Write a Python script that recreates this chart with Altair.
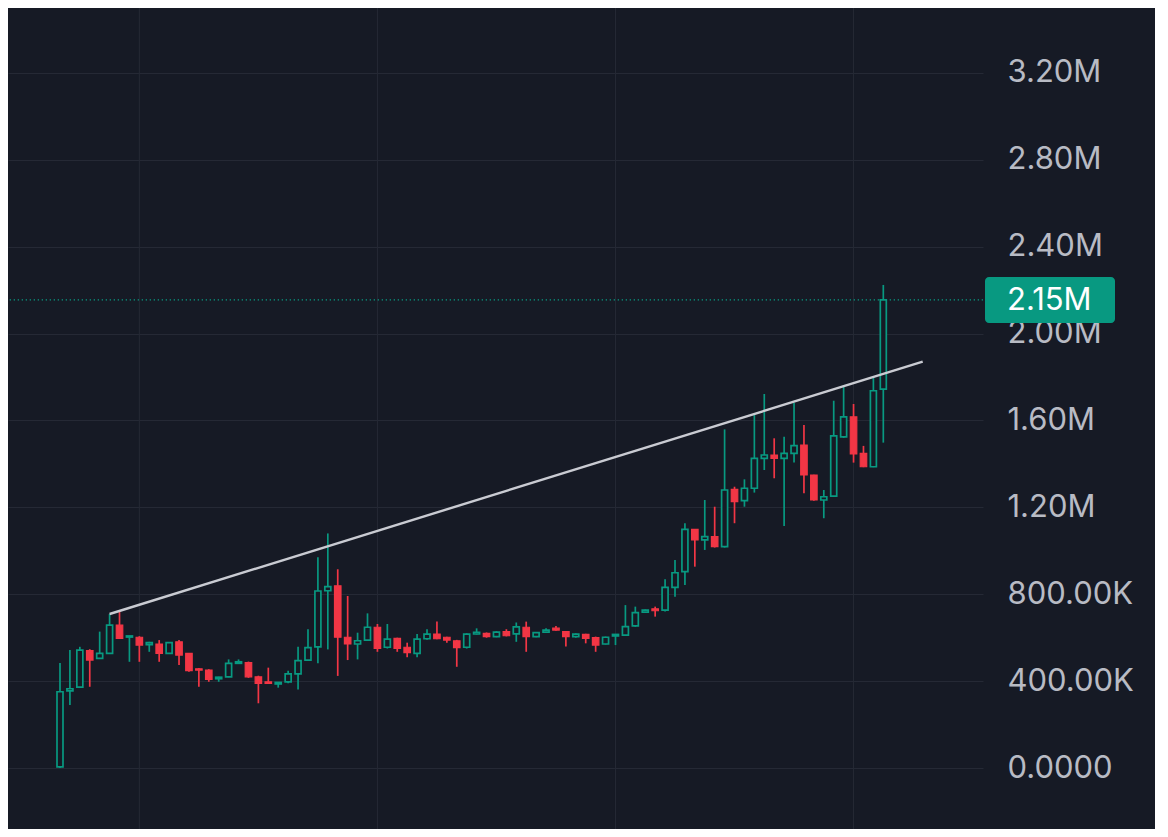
import altair as alt
import pandas as pd

# OHLC values in millions
opens = [0.005, 0.355, 0.372, 0.540, 0.505, 0.528, 0.658, 0.603, 0.602, 0.568,
         0.571, 0.528, 0.581, 0.528, 0.457, 0.451, 0.411, 0.420, 0.482, 0.485,
         0.420, 0.397, 0.387, 0.397, 0.433, 0.497, 0.558, 0.816, 0.839, 0.602,
         0.571, 0.589, 0.648, 0.556, 0.597, 0.556, 0.528, 0.595, 0.617, 0.602,
         0.586, 0.556, 0.617, 0.620, 0.605, 0.628, 0.618, 0.648, 0.605, 0.626,
         0.644, 0.628, 0.605, 0.615, 0.600, 0.571, 0.608, 0.612, 0.654, 0.718,
         0.733, 0.727, 0.832, 0.904, 1.099, 1.050, 1.065, 1.019, 1.283, 1.231,
         1.288, 1.426, 1.441, 1.426, 1.449, 1.487, 1.349, 1.234, 1.252, 1.525,
         1.617, 1.449, 1.387, 1.744]
highs = [0.483, 0.543, 0.558, 0.547, 0.628, 0.709, 0.724, 0.608, 0.607, 0.581,
         0.589, 0.580, 0.589, 0.530, 0.460, 0.455, 0.420, 0.500, 0.500, 0.490,
         0.425, 0.462, 0.396, 0.448, 0.558, 0.639, 0.970, 1.080, 0.915, 0.792,
         0.623, 0.712, 0.663, 0.663, 0.600, 0.577, 0.617, 0.639, 0.674, 0.604,
         0.590, 0.620, 0.643, 0.624, 0.630, 0.639, 0.670, 0.674, 0.626, 0.643,
         0.654, 0.630, 0.620, 0.618, 0.605, 0.605, 0.615, 0.750, 0.743, 0.730,
         0.743, 0.869, 0.958, 1.127, 1.100, 1.234, 1.203, 1.559, 1.295, 1.329,
         1.625, 1.722, 1.518, 1.525, 1.682, 1.579, 1.350, 1.280, 1.691, 1.763,
         1.676, 1.483, 1.802, 2.224]
lows = [0.000, 0.290, 0.372, 0.374, 0.505, 0.528, 0.597, 0.489, 0.489, 0.535,
        0.489, 0.525, 0.474, 0.443, 0.374, 0.397, 0.397, 0.418, 0.480, 0.415,
        0.298, 0.388, 0.370, 0.390, 0.362, 0.497, 0.482, 0.546, 0.424, 0.497,
        0.500, 0.585, 0.535, 0.550, 0.535, 0.510, 0.510, 0.590, 0.593, 0.577,
        0.466, 0.550, 0.615, 0.600, 0.602, 0.606, 0.581, 0.535, 0.602, 0.623,
        0.632, 0.559, 0.600, 0.574, 0.535, 0.569, 0.566, 0.610, 0.650, 0.715,
        0.697, 0.720, 0.789, 0.843, 0.927, 1.004, 1.015, 1.015, 1.127, 1.203,
        1.268, 1.372, 1.334, 1.114, 1.406, 1.265, 1.230, 1.150, 1.250, 1.520,
        1.406, 1.385, 1.385, 1.498]
closes = [0.351, 0.365, 0.543, 0.497, 0.528, 0.658, 0.597, 0.608, 0.566, 0.577,
          0.528, 0.577, 0.520, 0.448, 0.451, 0.408, 0.418, 0.482, 0.489, 0.420,
          0.390, 0.390, 0.394, 0.433, 0.494, 0.554, 0.815, 0.835, 0.602, 0.571,
          0.586, 0.648, 0.551, 0.593, 0.551, 0.531, 0.593, 0.616, 0.595, 0.589,
          0.554, 0.616, 0.625, 0.605, 0.626, 0.609, 0.650, 0.605, 0.623, 0.635,
          0.635, 0.605, 0.616, 0.597, 0.566, 0.602, 0.615, 0.651, 0.715, 0.727,
          0.724, 0.832, 0.899, 1.099, 1.050, 1.065, 1.019, 1.280, 1.226, 1.288,
          1.426, 1.441, 1.426, 1.449, 1.484, 1.349, 1.234, 1.249, 1.529, 1.617,
          1.446, 1.387, 1.737, 2.155]

# trendline anchor points (candle index, value in millions)
trend_x = [5.0, 86.97]
trend_y = [0.709, 1.871]

# vertical grid positions (candle index)
vgrid = [8, 32, 56, 80]
ytick_values = [0, 0.4, 0.8, 1.2, 1.6, 2.0, 2.4, 2.8, 3.2]

BG = "#161a25"
GRID = "#252935"
UP = "#089981"
DOWN = "#f23645"
LABEL = "#b8bbc4"
FONT = "Inter"

df = pd.DataFrame({
    "i": list(range(len(opens))),
    "open": opens, "high": highs, "low": lows, "close": closes,
})
df["dir"] = ["up" if c >= o else "down" for o, c in zip(opens, closes)]

W, H = 975, 821
xscale = alt.Scale(domain=[-5.242, 93.05], nice=False, zero=False, padding=0)
yscale = alt.Scale(domain=[-0.2808, 3.4991], nice=False, zero=False, padding=0)

label_expr = ("datum.value == 0 ? '0.0000' : (datum.value < 1 ? "
              "format(datum.value*1000, '.2f') + 'K' : format(datum.value, '.2f') + 'M')")

yaxis = alt.Axis(orient="right", values=ytick_values, grid=True, gridColor=GRID,
                 gridWidth=1, domain=False, ticks=False, labelPadding=24,
                 labelFont=FONT, labelFontSize=31, labelColor=LABEL,
                 labelAlign="left", labelExpr=label_expr, title=None)

base = alt.Chart(df)

vgrid_layer = alt.Chart(pd.DataFrame({"g": vgrid})).mark_rule(
    color=GRID, strokeWidth=1
).encode(x=alt.X("g:Q", scale=xscale, axis=None))

wicks = base.mark_rule(strokeWidth=1.7).encode(
    x=alt.X("i:Q", scale=xscale, axis=None),
    y=alt.Y("low:Q", scale=yscale, axis=yaxis),
    y2="high:Q",
    color=alt.Color("dir:N", scale=alt.Scale(domain=["up", "down"], range=[UP, DOWN]), legend=None),
)

up_bodies = base.transform_filter("datum.dir == 'up'").mark_bar(
    width=6, fill=BG, stroke=UP, strokeWidth=1.7
).encode(
    x=alt.X("i:Q", scale=xscale, axis=None),
    y=alt.Y("open:Q", scale=yscale),
    y2="close:Q",
)

down_bodies = base.transform_filter("datum.dir == 'down'").mark_bar(
    width=6.5, fill=DOWN, stroke=DOWN, strokeWidth=1.2
).encode(
    x=alt.X("i:Q", scale=xscale, axis=None),
    y=alt.Y("open:Q", scale=yscale),
    y2="close:Q",
)

trend = alt.Chart(pd.DataFrame({"x": trend_x, "y": trend_y})).mark_line(
    color="#c9cbd2", strokeWidth=2.4
).encode(
    x=alt.X("x:Q", scale=xscale, axis=None),
    y=alt.Y("y:Q", scale=yscale),
)

last = pd.DataFrame({"v": [closes[-1]], "lbl": [f"{closes[-1]:.2f}M"]})

price_line = alt.Chart(last).mark_rule(
    color=UP, strokeWidth=1.3, strokeDash=[1.3, 2.7]
).encode(y=alt.Y("v:Q", scale=yscale))

price_box = alt.Chart(last).mark_rect(
    color=UP, cornerRadius=4, yOffset=-23, y2Offset=23
).encode(
    x=alt.value(W + 2), x2=alt.value(W + 132),
    y=alt.Y("v:Q", scale=yscale), y2="v:Q",
)

price_text = alt.Chart(last).mark_text(
    align="left", baseline="middle", font=FONT, fontSize=31, color="#ffffff", dy=1
).encode(
    x=alt.value(W + 24),
    y=alt.Y("v:Q", scale=yscale),
    text="lbl:N",
)

chart = alt.layer(
    vgrid_layer, price_line, wicks, up_bodies, down_bodies, trend, price_box, price_text
).properties(
    width=W, height=H, background=BG,
    padding={"left": 0, "top": 0, "right": 172, "bottom": 0},
    autosize=alt.AutoSizeParams(type="none"),
).configure_view(stroke=None)

chart.save("out.html", embed_options={"renderer": "svg", "actions": False})
